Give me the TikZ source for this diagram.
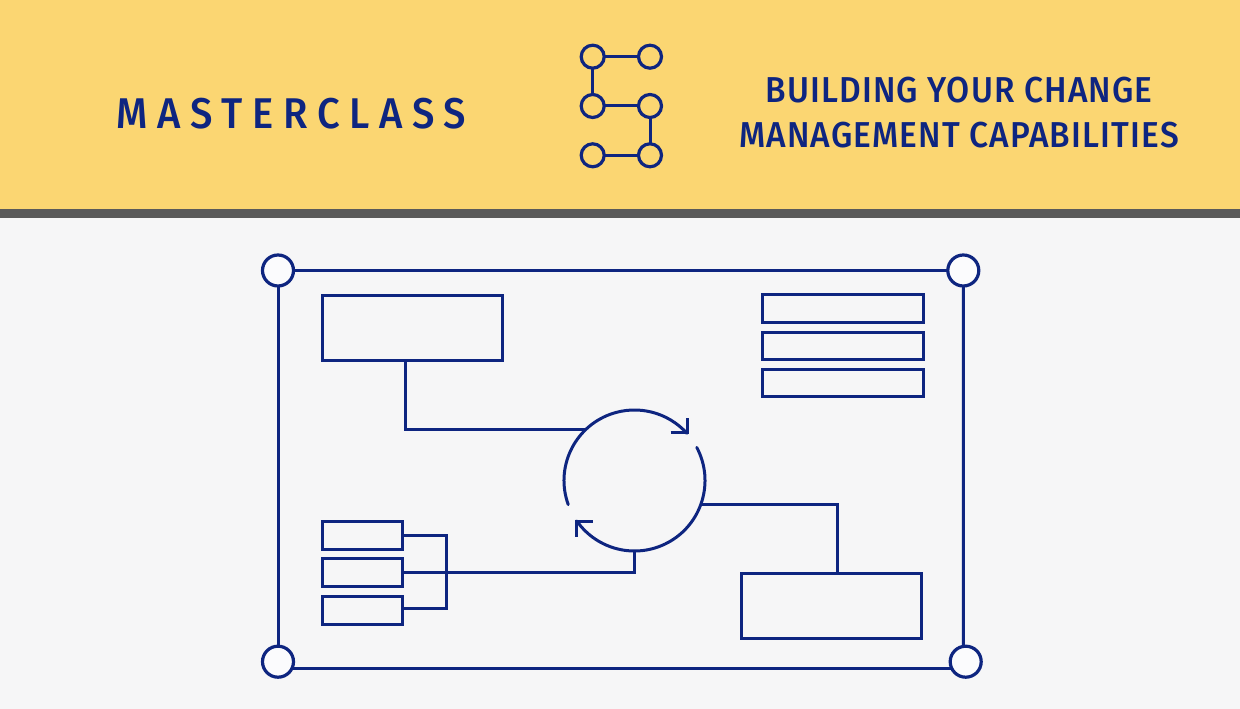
\documentclass[tikz,border=0pt]{standalone}
\usepackage{fontspec}
\newfontfamily\headfont[FakeStretch=0.93,LetterSpace=3.2]{Fira Sans Medium}
\newfontfamily\mcfont[FakeStretch=0.93,LetterSpace=22.3]{Fira Sans Medium}
\definecolor{navy}{HTML}{0E2580}
\definecolor{banner}{HTML}{FBD672}
\definecolor{barcol}{HTML}{5A5A5A}
\definecolor{paper}{HTML}{F6F6F7}
\definecolor{ringfill}{HTML}{FBFBFD}
\tikzset{
  wire/.style={draw=navy,line width=3pt},
  boxn/.style={draw=navy,line width=3pt,fill=paper,inner sep=0pt,outer sep=0pt,rectangle},
  ring/.style={draw=navy,line width=3.2pt,fill=ringfill,circle,inner sep=0pt,outer sep=0pt,minimum size=31pt},
  logoring/.style={draw=navy,line width=3.2pt,fill=banner,circle,inner sep=0pt,outer sep=0pt,minimum size=23pt},
}
\newcommand{\rect}[5]{\node[boxn,minimum width=#4pt-#2pt,minimum height=#5pt-#3pt] (#1) at ({(#2+#4)/2},{709-(#3+#5)/2}) {};}
\begin{document}
\begin{tikzpicture}[x=1pt,y=1pt]
\useasboundingbox (0,0) rectangle (1240,709);
\fill[paper] (0,0) rectangle (1240,709);
\fill[banner] (0,500) rectangle (1240,709);
\fill[barcol] (0,491) rectangle (1240,500);
% heading
\node[text=navy,inner sep=0pt,anchor=center,font=\mcfont\fontsize{43}{43}\selectfont] (mc) at (291.5,595) {MASTERCLASS};
\node[text=navy,inner sep=0pt,anchor=center,font=\headfont\fontsize{36}{45}\selectfont,align=center] (title) at (959,596) {BUILDING YOUR CHANGE\\MANAGEMENT CAPABILITIES};
% logo
\node[logoring] (l1) at (592.7,652.3) {};
\node[logoring] (l2) at (650,652.3) {};
\node[logoring] (l3) at (592.7,603) {};
\node[logoring] (l4) at (650,603) {};
\node[logoring] (l5) at (592.7,553.7) {};
\node[logoring] (l6) at (650,553.7) {};
\draw[wire] (l1) -- (l2);
\draw[wire] (l1) -- (l3);
\draw[wire] (l3) -- (l4);
\draw[wire] (l4) -- (l6);
\draw[wire] (l5) -- (l6);
% frame
\node[ring] (c1) at (278,438.5) {};
\node[ring] (c2) at (963.3,438.5) {};
\node[ring] (c3) at (278,47.3) {};
\node[ring] (c4) at (965.7,47.3) {};
\draw[wire] (c1) -- (c2);
\draw[wire] (c1) -- (c3);
\draw[wire] (c2.south) -- (c4.99);
\draw[wire] (c3.-25) -- (c4.205);
% boxes
\rect{ba}{322}{296}{502}{361}
\rect{bd}{741}{573.5}{921}{638.5}
\rect{r1}{762}{295}{923.5}{322.5}
\rect{r2}{762}{332.5}{923.5}{360}
\rect{r3}{762}{370}{923.5}{397}
\rect{s1}{322}{521.5}{402.7}{549.5}
\rect{s2}{322}{559}{402.7}{587}
\rect{s3}{322}{596.5}{402.7}{624.5}
% loop
\node[circle,inner sep=0pt,outer sep=0pt,minimum size=141pt] (loop) at (634.5,228.5) {};
\draw[wire,line cap=round] (loop.200) arc[start angle=200,end angle=42,radius=70.5pt];
\draw[wire,line cap=round] (loop.28) arc[start angle=28,end angle=-145,radius=70.5pt];
\draw[wire,line join=miter] (670.7,276.3) -- (687,276.3) -- (687,291.3);
\draw[wire,line join=miter] (592.7,187.7) -- (576,187.7) -- (576,172);
% connectors
\draw[wire] ([xshift=-6.5pt]ba.south) |- (loop.134);
\draw[wire] (loop.-20) -| ([xshift=6pt]bd.north);
\draw[wire] (loop.south) |- (s2.east);
\draw[wire] (s1.east) -| (446.7,100.3) -- (s3.east |- 0,100.3);
\end{tikzpicture}
\end{document}
